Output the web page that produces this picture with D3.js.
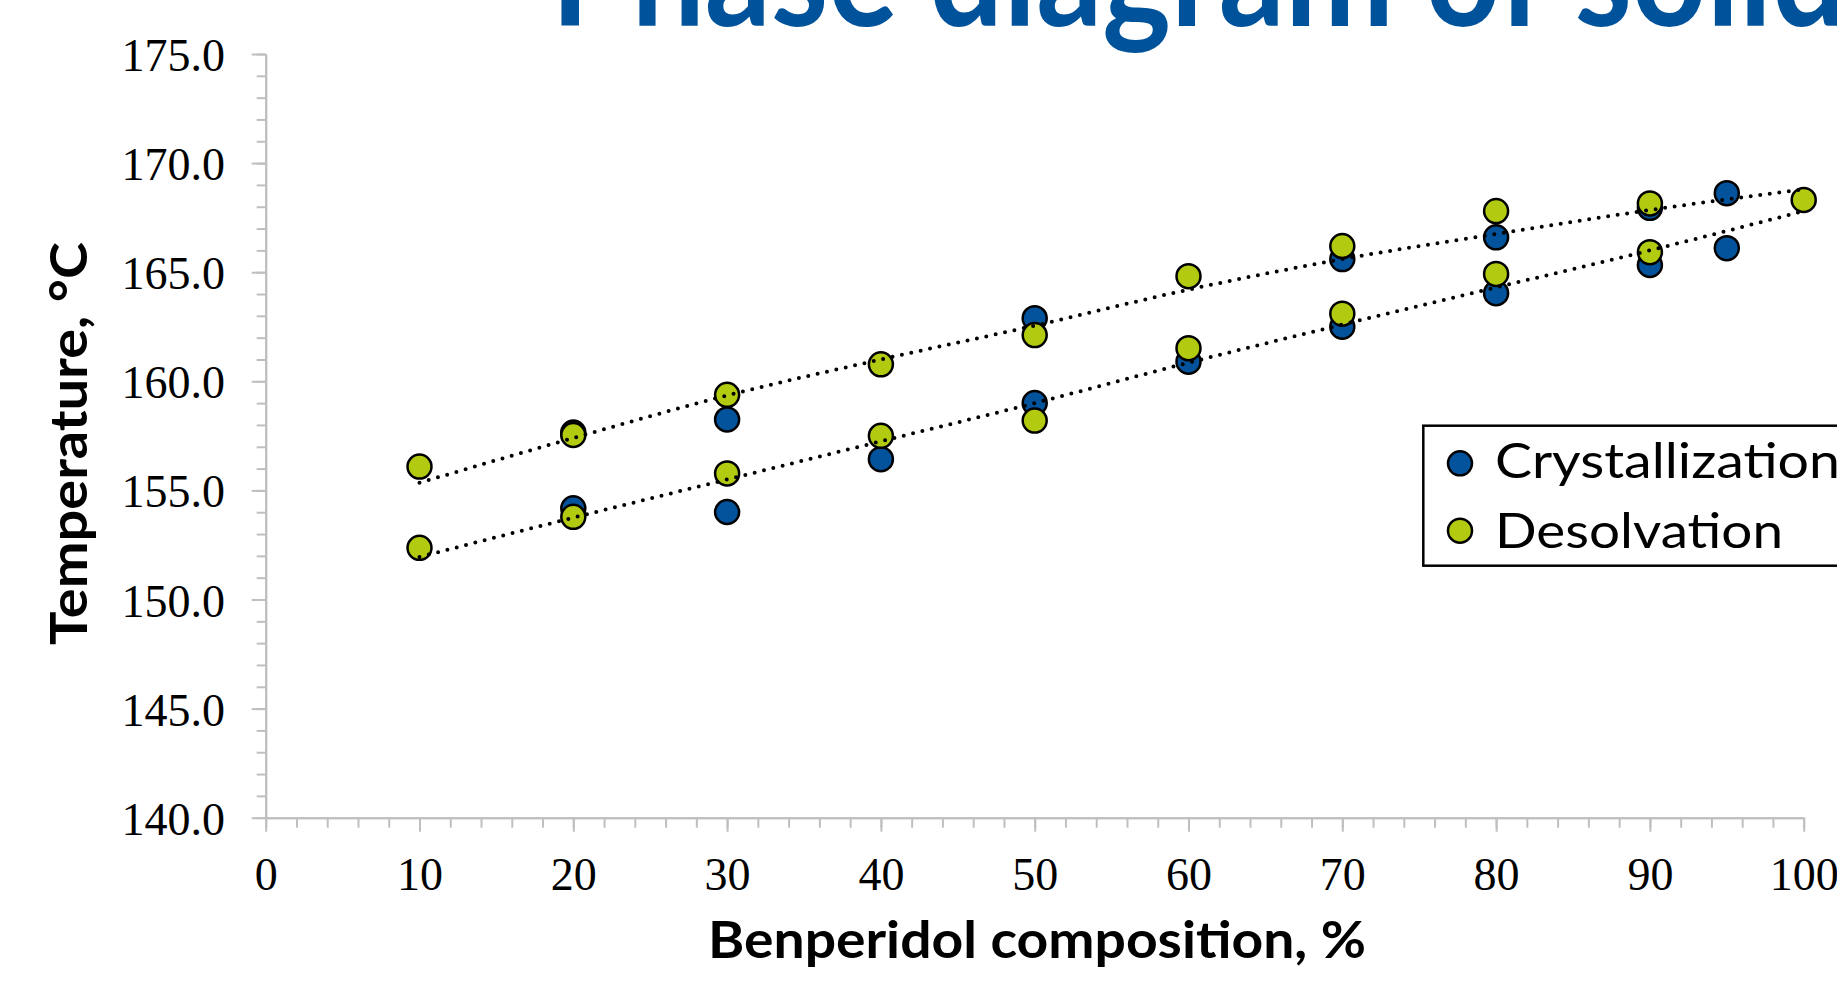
<!DOCTYPE html>
<html>
<head>
<meta charset="utf-8">
<script src="https://cdn.jsdelivr.net/npm/d3@7"></script>
<style>
  html, body { margin: 0; padding: 0; background: #ffffff; overflow: hidden; }
  svg { display: block; }
</style>
</head>
<body>
<script>
// ---------- data ----------
const titleText = "Phase diagram of solid";
const xTitle = "Benperidol composition, %";
const yTitle = "Temperature, \u00B0C";
const seriesNames = ["Crystallization", "Desolvation"];

const crystX = [20, 20, 30, 30, 40, 50, 50, 60, 70, 70, 80, 80, 90, 90, 95, 95];
const crystT = [157.65, 154.18, 158.25, 154.01, 156.43, 162.89, 159.0, 160.9, 165.6, 162.5, 166.6, 164.04, 167.95, 165.33, 168.62, 166.1];

const desolX = [10, 10, 20, 20, 30, 30, 40, 40, 50, 50, 60, 60, 70, 70, 80, 80, 90, 90, 100];
const desolT = [156.09, 152.37, 157.54, 153.79, 159.38, 155.78, 160.78, 157.5, 162.12, 158.2, 164.82, 161.52, 166.2, 163.1, 167.8, 164.92, 168.15, 165.92, 168.31];

const trendX = [10, 20, 30, 40, 50, 60, 70, 80, 90, 100];
const trendUpper = [155.35, 157.4, 159.35, 161.0, 162.55, 164.2, 165.6, 166.75, 167.85, 168.8];
const trendLower = [151.95, 153.75, 155.5, 157.25, 159.0, 160.85, 162.6, 164.3, 166.0, 167.8];

const xMajorTicks = [0, 10, 20, 30, 40, 50, 60, 70, 80, 90, 100];
const xMinorTicks = d3.range(0, 101, 2);
const yMajorTicks = [140, 145, 150, 155, 160, 165, 170, 175];
const yMinorTicks = d3.range(140, 176, 1);

// ---------- styles ----------
const W = 1837, H = 981;
const blue = "#02539C";
const green = "#B2CA0F";
const axisGray = "#BFBFBF";
const sansFont = "Lato, 'Open Sans', sans-serif";
const serifFont = "'Liberation Serif', 'Times New Roman', serif";

const svg = d3.select("body").append("svg")
  .attr("width", W).attr("height", H)
  .attr("viewBox", `0 0 ${W} ${H}`);

svg.append("rect").attr("width", W).attr("height", H).attr("fill", "#ffffff");

const x = d3.scaleLinear().domain([0, 100]).range([265.7, 1803.7]);
const y = d3.scaleLinear().domain([140, 175]).range([817.7, 54]);

// ---------- title ----------
svg.append("text")
  .attr("x", 551).attr("y", 26)
  .attr("font-family", sansFont)
  .attr("font-weight", 700)
  .attr("font-size", 148)
  .attr("fill", "#00539B")
  .attr("textLength", 1295)
  .attr("lengthAdjust", "spacingAndGlyphs")
  .text(titleText);

// ---------- axes ----------
function styleAxis(g) {
  g.selectAll("path.domain").attr("stroke", axisGray).attr("stroke-width", 2);
  g.selectAll(".tick line").attr("stroke", axisGray).attr("stroke-width", 2);
  g.selectAll(".tick text")
    .attr("font-family", serifFont)
    .attr("font-size", 46)
    .attr("fill", "#000");
}

// minor ticks
svg.append("g")
  .attr("transform", `translate(${x(0)},0)`)
  .call(d3.axisLeft(y).tickValues(yMinorTicks).tickSize(9).tickSizeOuter(0).tickFormat(""))
  .call(styleAxis);
svg.append("g")
  .attr("transform", `translate(0,${y(140)})`)
  .call(d3.axisBottom(x).tickValues(xMinorTicks).tickSize(10).tickSizeOuter(0).tickFormat(""))
  .call(styleAxis);

// major ticks + labels
const yAxisG = svg.append("g")
  .attr("transform", `translate(${x(0)},0)`)
  .call(d3.axisLeft(y).tickValues(yMajorTicks).tickSize(14).tickSizeOuter(0)
    .tickPadding(26.7).tickFormat(d3.format(".1f")))
  .call(styleAxis);
yAxisG.selectAll(".tick text").attr("dy", "0.36em");

svg.append("g")
  .attr("transform", `translate(0,${y(140)})`)
  .call(d3.axisBottom(x).tickValues(xMajorTicks).tickSize(14).tickSizeOuter(0)
    .tickPadding(25.6).tickFormat(d3.format("d")))
  .call(styleAxis);

// ---------- axis titles ----------
svg.append("text")
  .attr("transform", "translate(87,443.5) rotate(-90)")
  .attr("text-anchor", "middle")
  .attr("font-family", sansFont)
  .attr("font-weight", 700)
  .attr("font-size", 51)
  .attr("fill", "#000")
  .attr("textLength", 403)
  .attr("lengthAdjust", "spacingAndGlyphs")
  .text(yTitle);

svg.append("text")
  .attr("x", 1037).attr("y", 958)
  .attr("text-anchor", "middle")
  .attr("font-family", sansFont)
  .attr("font-weight", 700)
  .attr("font-size", 51)
  .attr("fill", "#000")
  .attr("textLength", 658)
  .attr("lengthAdjust", "spacingAndGlyphs")
  .text(xTitle);

// ---------- markers ----------
const crystData = crystX.map((d, i) => ({ x: d, t: crystT[i] }));
const desolData = desolX.map((d, i) => ({ x: d, t: desolT[i] }));

svg.append("g").selectAll("circle").data(crystData).join("circle")
  .attr("cx", d => x(d.x)).attr("cy", d => y(d.t)).attr("r", 12)
  .attr("fill", blue).attr("stroke", "#000").attr("stroke-width", 2.5);

svg.append("g").selectAll("circle").data(desolData).join("circle")
  .attr("cx", d => x(d.x)).attr("cy", d => y(d.t)).attr("r", 12)
  .attr("fill", green).attr("stroke", "#000").attr("stroke-width", 2.5);

// ---------- trend lines (dotted, on top) ----------
const line = d3.line().x(d => x(d.x)).y(d => y(d.t)).curve(d3.curveMonotoneX);
[trendUpper, trendLower].forEach(arr => {
  const pts = trendX.map((d, i) => ({ x: d, t: arr[i] }));
  svg.append("path").datum(pts)
    .attr("d", line)
    .attr("fill", "none")
    .attr("stroke", "#000")
    .attr("stroke-width", 4)
    .attr("stroke-linecap", "round")
    .attr("stroke-dasharray", "0 9.6");
});

// ---------- legend ----------
const lg = svg.append("g");
lg.append("rect")
  .attr("x", 1423.3).attr("y", 425.7)
  .attr("width", 520).attr("height", 140)
  .attr("fill", "#fff").attr("stroke", "#000").attr("stroke-width", 2.5);

const legendRows = [
  { name: seriesNames[0], color: blue, cy: 463.3, base: 478.3, len: 345 },
  { name: seriesNames[1], color: green, cy: 530.7, base: 548.3, len: 288 }
];
legendRows.forEach(r => {
  lg.append("circle").attr("cx", 1460).attr("cy", r.cy).attr("r", 12)
    .attr("fill", r.color).attr("stroke", "#000").attr("stroke-width", 2.5);
  lg.append("text")
    .attr("x", 1495).attr("y", r.base)
    .attr("font-family", sansFont)
    .attr("font-size", 48.6)
    .attr("fill", "#000")
    .attr("textLength", r.len)
    .attr("lengthAdjust", "spacingAndGlyphs")
    .text(r.name);
});
</script>
</body>
</html>
